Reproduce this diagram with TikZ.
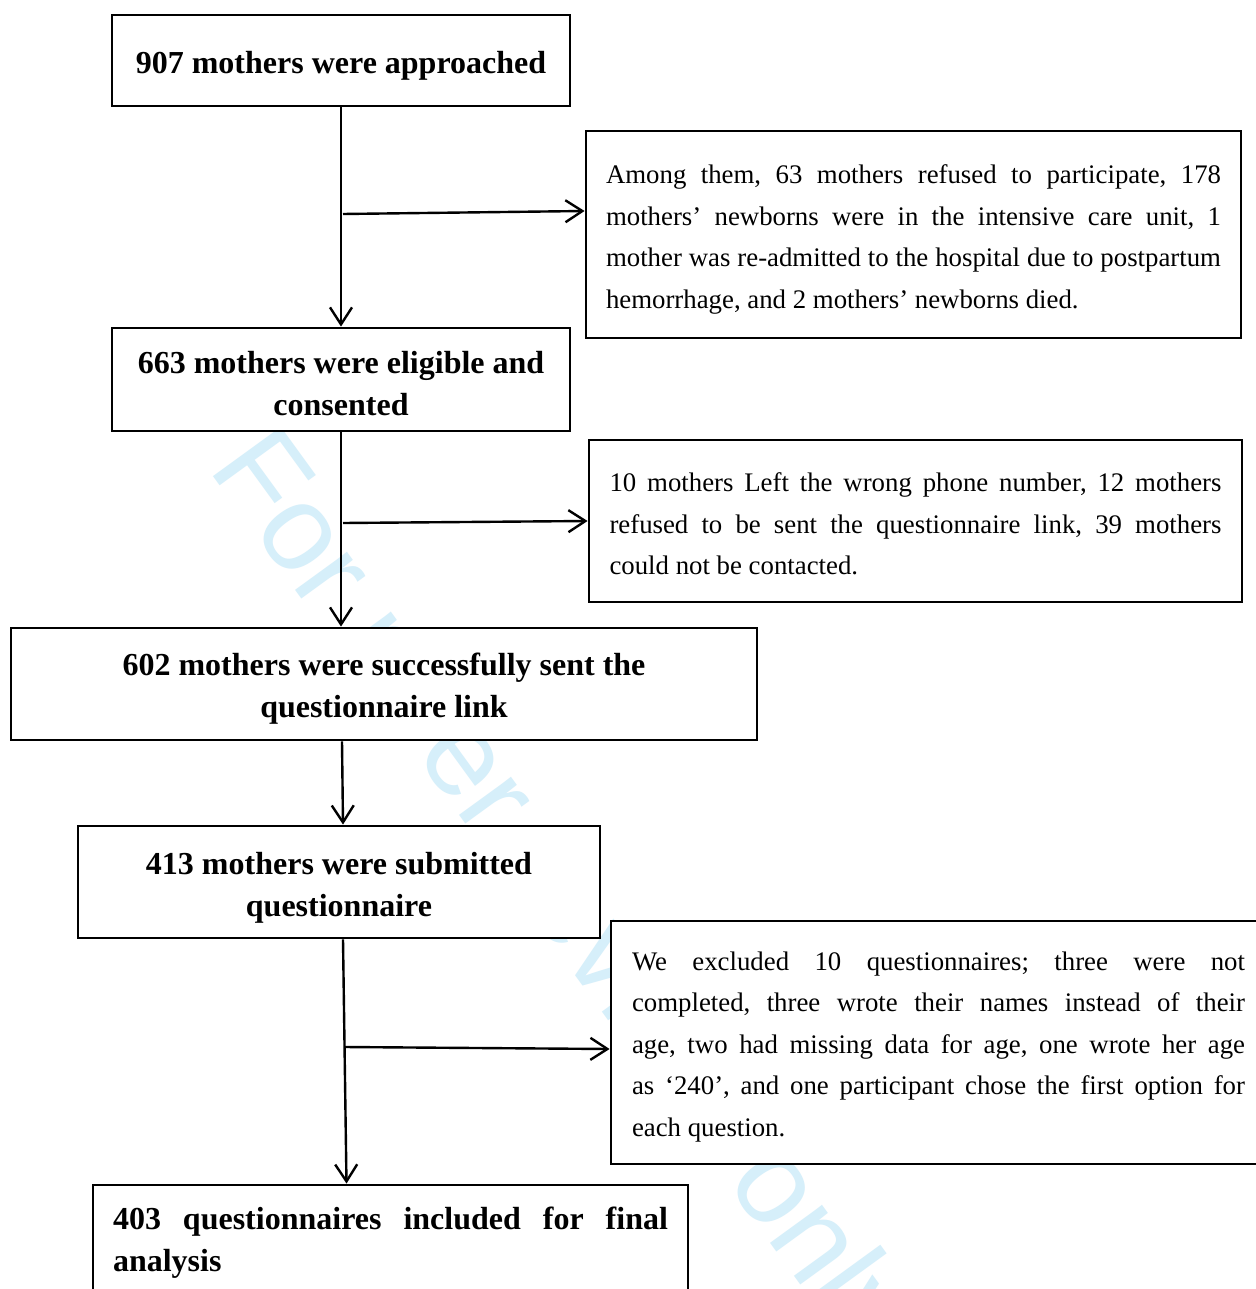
\documentclass[tikz,border=0pt]{standalone}
\usepackage{fontspec}
\setmainfont{Liberation Serif}
\newfontfamily\wmfont{Liberation Sans}
\usetikzlibrary{arrows.meta}
\definecolor{wmblue}{RGB}{214,239,250}
\hyphenpenalty=10000
\exhyphenpenalty=10000
\frenchspacing
\begin{document}
\begin{tikzpicture}[x=0.5pt,y=-0.5pt,
  frame/.style={draw, line width=1.4pt, fill=white, inner sep=0pt},
  maintext/.style={inner sep=0pt, align=center,
    font=\bfseries\fontsize{16pt}{21pt}\selectfont},
  sidetext/.style={inner sep=0pt, align=justify,
    font=\fontsize{13.4pt}{20.75pt}\selectfont},
  arr/.style={line width=1.2pt, -{Straight Barb[length=8.5pt,width=11pt,line width=1.2pt]}},
  wmtext/.style={text=wmblue, inner sep=0pt, font=\wmfont\fontsize{61pt}{61pt}\selectfont}]
\useasboundingbox (0,0) rectangle (1256,1289);
\clip (0,0) rectangle (1256,1289);
\fill[white] (0,0) rectangle (1256,1289);
% watermark
\node[wmtext, rotate=-54, anchor=base west] (wm) at (207,468) {For peer review only};
% main boxes
\node[frame, minimum width=229pt, minimum height=45.5pt] (b1) at (341,60.5) {};
\node[maintext] (t1) at ([yshift=-2.5pt]b1.center) {907 mothers were approached};
\node[frame, minimum width=229pt, minimum height=51.5pt] (b2) at (341,379.5) {};
\node[maintext] (t2) at ([yshift=-2pt]b2.center) {663 mothers were eligible and\\consented};
\node[frame, minimum width=373pt, minimum height=56pt] (b3) at (384,684) {};
\node[maintext] (t3) at ([yshift=-2.5pt]b3.center) {602 mothers were successfully sent the\\questionnaire link};
\node[frame, minimum width=261pt, minimum height=56pt] (b4) at (339,882) {};
\node[maintext] (t4) at ([yshift=-2.75pt]b4.center) {413 mothers were submitted\\questionnaire};
\node[frame, minimum width=297.5pt, minimum height=55pt] (b5) at (390.5,1240) {};
\node[maintext, align=justify, text width=277.5pt] (t5) at ([yshift=-1.5pt]b5.center) {403 questionnaires included for final\linebreak analysis};
% side boxes
\node[frame, minimum width=327.5pt, minimum height=103.5pt] (r1) at (913.5,234.5) {};
\node[sidetext, text width=307.5pt] (s1) at ([yshift=-2.5pt]r1.center) {Among them, 63 mothers refused to participate, 178\linebreak mothers’ newborns were in the intensive care unit, 1\linebreak mother was re-admitted to the hospital due to postpartum\linebreak hemorrhage, and 2 mothers’ newborns died.};
\node[frame, minimum width=326.5pt, minimum height=81pt] (r2) at (915.5,521) {};
\node[sidetext, text width=306pt] (s2) at ([yshift=-1.5pt]r2.center) {10 mothers Left the wrong phone number, 12 mothers\linebreak refused to be sent the questionnaire link, 39 mothers\linebreak could not be contacted.};
\node[frame, minimum width=327.5pt, minimum height=121.5pt] (r3) at (938.5,1042.5) {};
\node[sidetext, text width=306.5pt] (s3) at ([yshift=-2.25pt]r3.center) {We excluded 10 questionnaires; three were not\linebreak completed, three wrote their names instead of their\linebreak age, two had missing data for age, one wrote her age\linebreak as ‘240’, and one participant chose the first option for\linebreak each question.};
% junctions
\coordinate (j1) at (343,214);
\coordinate (j2) at (343,523);
\coordinate (j3) at (345,1047);
% connectors
\draw[arr] (b1.south) -- (b2.north);
\draw[arr] (j1) -- ([yshift=11.75pt]r1.west);
\draw[arr] (b2.south) -- ([xshift=-21.5pt]b3.north);
\draw[arr] (j2) -- (r2.west);
\draw[arr] ([xshift=-21pt]b3.south) -- ([xshift=2pt]b4.north);
\draw[arr] ([xshift=2pt]b4.south) -- ([xshift=-22pt]b5.north);
\draw[arr] (j3) -- ([yshift=-3.25pt]r3.west);
\end{tikzpicture}
\end{document}
